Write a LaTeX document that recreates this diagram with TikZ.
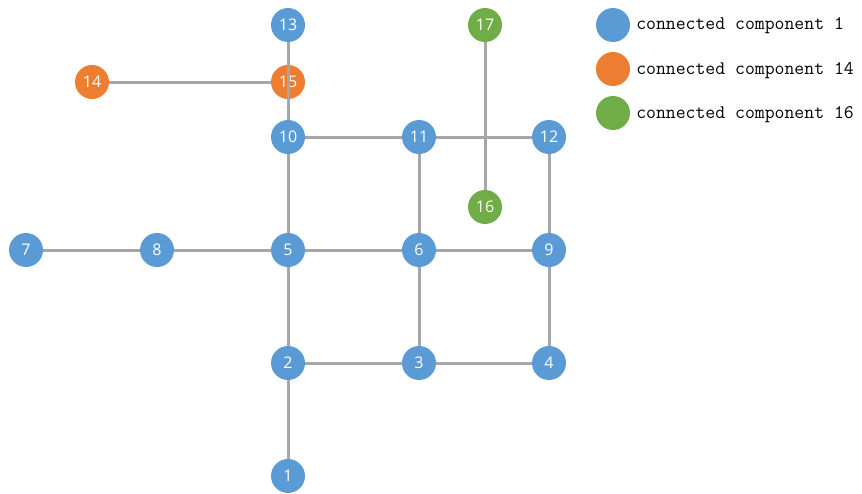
\documentclass[tikz,border=0pt]{standalone}
\usepackage{fontspec}
\setmainfont{Open Sans}
\definecolor{compblue}{HTML}{5B9BD5}
\definecolor{comporange}{HTML}{ED7D31}
\definecolor{compgreen}{HTML}{70AD47}
\definecolor{edgegray}{HTML}{A6A6A6}
\begin{document}
\begin{tikzpicture}%
	[x=0.75pt, y=-0.75pt,
	edge/.style={color=edgegray, line width=2.25pt},
	vertex/.style={circle, inner sep=0pt, minimum size=25.5pt, text=white, font=\fontsize{12}{14}\selectfont},
	blue/.style={vertex, fill=compblue},
	orange/.style={vertex, fill=comporange},
	green/.style={vertex, fill=compgreen},
	legend/.style={anchor=west, inner sep=0pt, font=\ttfamily\fontsize{14.4}{16}\selectfont}]
	%
	\useasboundingbox (0,0) rectangle (862,493);
	%%
	%% Drawing the vertices
	%%
	\node[blue] (v1) at (288,476) {1};
	\node[blue] (v2) at (288,363) {2};
	\node[blue] (v3) at (419,363) {3};
	\node[blue] (v4) at (549,363) {4};
	\node[blue] (v5) at (288,250) {5};
	\node[blue] (v6) at (419,250) {6};
	\node[blue] (v7) at (26,250) {7};
	\node[blue] (v8) at (157,250) {8};
	\node[blue] (v9) at (549,250) {9};
	\node[blue] (v10) at (288,137) {10};
	\node[blue] (v11) at (419,137) {11};
	\node[blue] (v12) at (549,137) {12};
	\node[blue] (v13) at (288,25) {13};
	\node[orange] (v14) at (92,82) {14};
	\node[orange] (v15) at (288,82) {15};
	\node[green] (v16) at (485,207) {16};
	\node[green] (v17) at (485,25) {17};
	%%
	%% Drawing the edges
	%%
	\draw[edge] (v1) -- (v2);
	\draw[edge] (v2) -- (v3);
	\draw[edge] (v3) -- (v4);
	\draw[edge] (v2) -- (v5);
	\draw[edge] (v3) -- (v6);
	\draw[edge] (v4) -- (v9);
	\draw[edge] (v7) -- (v8);
	\draw[edge] (v8) -- (v5);
	\draw[edge] (v5) -- (v6);
	\draw[edge] (v6) -- (v9);
	\draw[edge] (v5) -- (v10);
	\draw[edge] (v6) -- (v11);
	\draw[edge] (v9) -- (v12);
	\draw[edge] (v10) -- (v11);
	\draw[edge] (v11) -- (v12);
	\draw[edge] (v14) -- (v15);
	\draw[edge] (v17) -- (v16);
	\draw[edge] (v13.south) -- (v10.north);
	%%
	%% Drawing the legend
	%%
	\node[blue] (l1) at (613,25) {};
	\node[orange] (l14) at (613,69) {};
	\node[green] (l16) at (613,113) {};
	\node[legend] (t1) at (636,26) {connected component 1};
	\node[legend] (t14) at (636,71) {connected component 14};
	\node[legend] (t16) at (636,115) {connected component 16};
	%%
\end{tikzpicture}
\end{document}
